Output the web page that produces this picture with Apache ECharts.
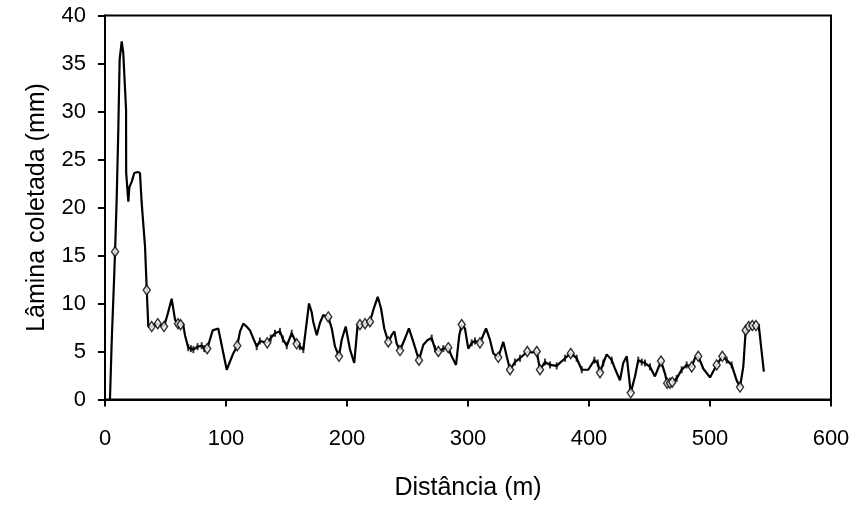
<!DOCTYPE html>
<html>
<head>
<meta charset="utf-8">
<script src="https://cdn.jsdelivr.net/npm/echarts@6/dist/echarts.min.js"></script>
<style>
html,body{margin:0;padding:0;background:#fff;}
#chart{width:860px;height:508px;}
</style>
</head>
<body>
<div id="chart"></div>
<script>
// Distância (m) and Lâmina coletada (mm) along the profile
const distance = [4.1,5.5,7.7,8.3,9.7,11.0,12.1,13.8,15.1,17.4,17.5,19.3,20.1,22.1,24.2,27.0,28.9,30.3,33.1,34.5,35.8,38.6,41,43.6,46,48.8,52,55.1,57.9,60.3,62.5,64.5,66.1,68.8,71,73.0,76.5,79.9,82,84.5,89.0,93.6,100.6,106,109.3,111.6,114.3,117,119.8,125.4,128,130.8,134.1,137,140.5,144.6,147,150.2,154.3,158.4,161,163.9,168.6,170.8,172.1,175,177.7,180.4,184.5,187.4,190.1,193.4,195.6,198.9,202.5,206,208.8,210.7,214.9,219,221.7,225.4,228.1,230.8,234.1,236.9,239.1,241.1,243.8,247.4,251.2,254.8,259.5,263.1,266.7,270,272.7,275.5,279.6,283.7,286.5,290.1,292.8,294.8,297.5,300.2,303.1,305.8,309.9,314.9,318.2,320.9,325,329.2,332,334.7,338.8,343,349,353,356.8,359.5,363.6,367.8,373.3,380.2,384.9,389.8,394,399.4,404.4,407.2,409.1,411.8,414.6,418.8,421.5,425.6,428.3,431.2,434.5,438,440.7,443.6,446.3,450.4,454.5,459.5,462.8,464.6,466.9,468.8,472.5,476.6,480.7,484.9,487.5,490.3,494.5,500,505.5,510.2,513.8,517.9,522,524.8,527.5,529.5,532,535,538,540.5,544.5];
const lamina = [0,5.9,13.2,15.4,21.1,28.1,35.4,37.3,36.1,30.2,23.6,20.6,22.1,22.7,23.6,23.7,23.6,20.5,15.9,11.4,7.6,7.6,7.8,7.9,7.7,7.6,9.0,10.5,8.3,7.9,7.8,7.9,6.7,5.4,5.3,5.2,5.5,5.6,5.3,5.3,7.2,7.4,3.1,4.8,5.6,7.1,7.9,7.6,7.2,5.5,6.1,6.0,5.9,6.4,6.9,7.1,6.3,5.6,6.9,5.8,5.5,5.2,10.0,9.1,8.1,6.7,8.0,8.8,8.6,7.4,5.5,4.5,6.2,7.6,5.2,3.8,7.8,7.8,7.9,8.1,9.3,10.7,9.5,7.4,6.0,6.7,7.1,5.8,5.1,6.2,7.4,6.0,4.1,5.7,6.2,6.4,5.3,5.0,5.3,5.4,4.5,3.6,6.7,7.8,7.4,5.3,5.9,6.1,5.9,7.4,6.2,4.8,4.4,6.0,4.5,3.1,3.9,4.3,5.0,4.9,5.0,3.1,3.9,3.6,3.5,4.3,4.8,4.3,3.1,3.1,4.1,3.8,2.8,3.8,4.7,4.1,3.2,2.0,3.8,4.5,0.7,2.4,4.1,3.9,3.8,3.4,2.4,4.0,2.7,1.7,1.7,1.8,2.2,3.1,3.6,3.4,4.3,4.5,3.2,2.3,3.6,4.5,4.1,3.6,2.0,1.3,3.4,7.2,7.6,7.7,7.7,7.5,2.9];

// hollow diamond markers
const markerX = [8.3,34.5,38.6,43.6,48.8,60.3,62.5,84.5,109.3,134.1,158.4,184.5,193.4,210.7,214.9,219,234.1,243.8,259.5,275.5,283.7,294.8,309.9,325,334.7,349,356.8,359.5,384.9,409.1,434.5,459.5,464.6,466.9,468.8,484.9,490.3,505.5,510.2,524.8,529.5,532,535,538];
const markerY = [15.4,11.4,7.6,7.9,7.6,7.9,7.8,5.3,5.6,5.9,5.8,8.6,4.5,7.8,7.9,8.1,6.0,5.1,4.1,5.0,5.4,7.8,5.9,4.4,3.1,5.0,5.0,3.1,4.8,2.8,0.7,4.0,1.7,1.7,1.8,3.4,4.5,3.6,4.5,1.3,7.2,7.6,7.7,7.7];

// small vertical dash marks on the line
const dashX = [68.8,71,73.0,76.5,79.9,82,125.4,128,137,140.5,144.6,147,150.2,154.3,161,163.9,270,272.7,279.6,303.1,305.8,338.8,343,363.6,367.8,373.3,380.2,389.8,394,404.4,407.2,411.8,418.8,440.7,443.6,446.3,450.4,472.5,476.6,480.7,513.8,517.9,540.5];

const xTicks = [0,100,200,300,400,500,600];
const yTicks = [0,5,10,15,20,25,30,35,40];

const lineData = distance.map((d,i)=>[d, lamina[i]]);
const markData = markerX.map((d,i)=>[d, markerY[i]]);
const dashData = dashX.map(d=>[d, lamina[distance.indexOf(d)]]);

const FONT = 'Liberation Sans, Arial, sans-serif';
const chart = echarts.init(document.getElementById('chart'), null, {renderer:'canvas'});
chart.setOption({
  animation:false,
  backgroundColor:'#fff',
  grid:{left:105, right:29, top:15.5, bottom:108.5, show:true, borderColor:'#000', borderWidth:2, backgroundColor:'transparent'},
  xAxis:{
    type:'value', min:xTicks[0], max:xTicks[xTicks.length-1], interval:100,
    name:'Distância (m)', nameLocation:'middle', nameGap:76,
    nameTextStyle:{fontFamily:FONT, fontSize:25, color:'#000'},
    axisLine:{show:true, onZero:false, lineStyle:{color:'#000', width:2}},
    axisTick:{show:true, inside:false, length:7, lineStyle:{color:'#000', width:2}},
    axisLabel:{fontFamily:FONT, fontSize:22, color:'#000', margin:28},
    splitLine:{show:false}
  },
  yAxis:{
    type:'value', min:yTicks[0], max:yTicks[yTicks.length-1], interval:5,
    name:'Lâmina coletada (mm)', nameLocation:'middle', nameGap:55, nameRotate:90,
    nameTextStyle:{fontFamily:FONT, fontSize:25, color:'#000'},
    axisLine:{show:true, onZero:false, lineStyle:{color:'#000', width:2}},
    axisTick:{show:true, inside:false, length:7, lineStyle:{color:'#000', width:2}},
    axisLabel:{fontFamily:FONT, fontSize:22, color:'#000', margin:19},
    splitLine:{show:false}
  },
  series:[
    {type:'line', data:lineData, showSymbol:false, smooth:false,
     lineStyle:{color:'#000', width:2.2}, z:2},
    {type:'scatter', data:dashData, symbol:'rect', symbolSize:[2,7],
     itemStyle:{color:'#000'}, z:3},
    {type:'scatter', data:markData, symbol:'diamond', symbolSize:[7,10],
     itemStyle:{color:'#fff', borderColor:'#000', borderWidth:1.5}, z:4}
  ]
});
</script>
</body>
</html>
